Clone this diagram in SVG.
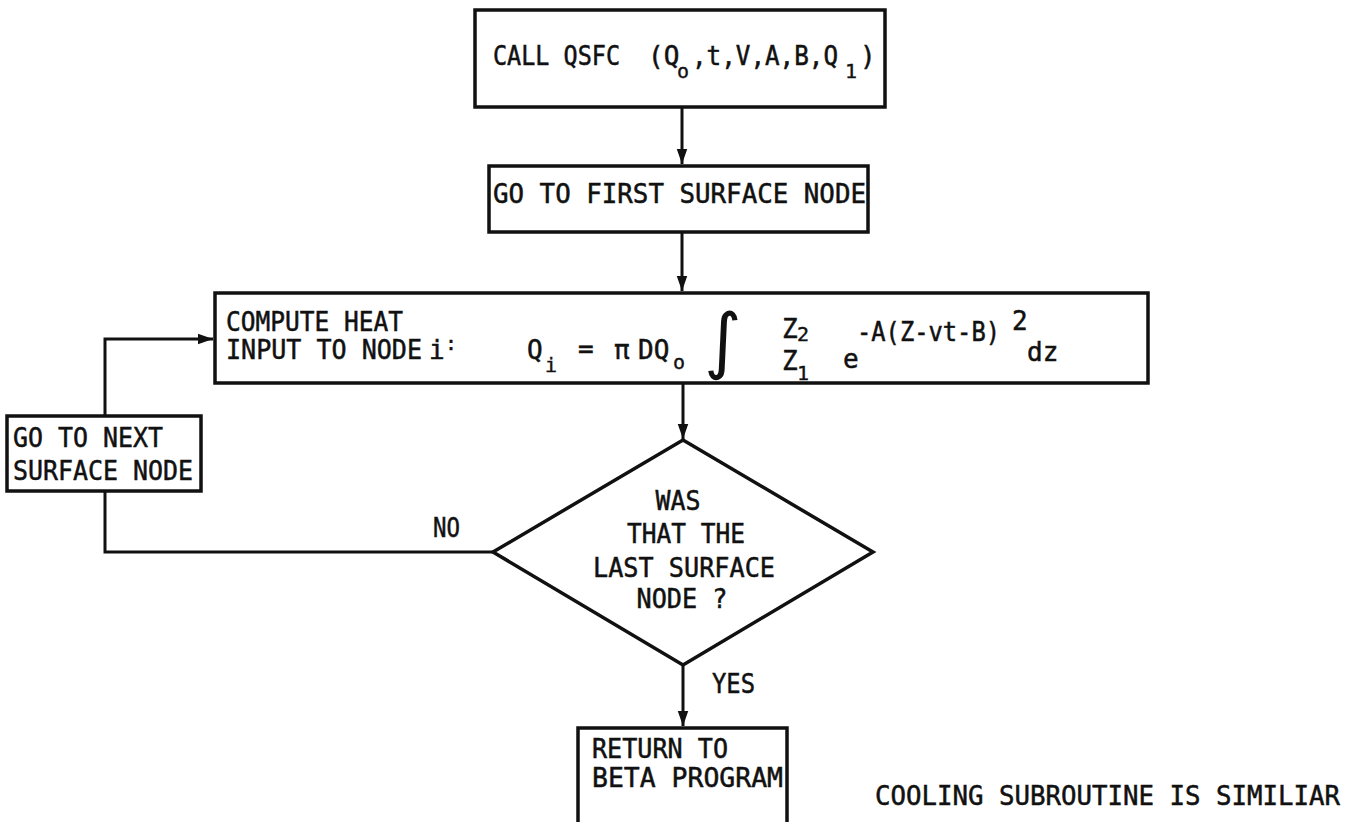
<svg xmlns="http://www.w3.org/2000/svg" width="1352" height="822" viewBox="0 0 1352 822">
<defs>
<style>
.box{fill:#fff;stroke:#111;stroke-width:3.5}
.con{fill:none;stroke:#111;stroke-width:3}
.t{font-family:"DejaVu Sans Mono","Liberation Mono",monospace;font-size:26px;fill:#111;stroke:#111;stroke-width:0.5}
.s{font-family:"DejaVu Sans Mono","Liberation Mono",monospace;font-size:20px;fill:#111;stroke:#111;stroke-width:0.4}
.m{text-anchor:middle}
</style>
<marker id="ah" viewBox="0 0 10 10" refX="10" refY="5" markerWidth="5" markerHeight="5" markerUnits="strokeWidth" orient="auto">
<path d="M0,1.5 L10,5 L0,8.5 Z" fill="#111"/>
</marker>
</defs>
<rect width="1352" height="822" fill="#fff"/>

<g id="connectors">
<line class="con" x1="682" y1="107" x2="682" y2="164" marker-end="url(#ah)"/>
<line class="con" x1="682" y1="232" x2="682" y2="291" marker-end="url(#ah)"/>
<line class="con" x1="683" y1="383" x2="683" y2="439" marker-end="url(#ah)"/>
<line class="con" x1="683" y1="665" x2="683" y2="726" marker-end="url(#ah)"/>
<polyline class="con" points="493,552 105,552 105,490"/>
<polyline class="con" points="105,416 105,339 213,339" marker-end="url(#ah)"/>
<text class="t" x="433" y="537" textLength="27" lengthAdjust="spacingAndGlyphs">NO</text>
<text class="t" x="712" y="693" textLength="43" lengthAdjust="spacingAndGlyphs">YES</text>
</g>

<g id="call">
<rect class="box" x="475" y="10" width="410" height="97"/>
<text class="t" y="65"><tspan x="493" textLength="127" lengthAdjust="spacingAndGlyphs">CALL QSFC</tspan><tspan x="648">(Q</tspan><tspan class="s" x="677" y="78">o</tspan><tspan x="692" y="65" textLength="146" lengthAdjust="spacingAndGlyphs">,t,V,A,B,Q</tspan><tspan class="s" x="845" y="78">1</tspan><tspan x="860" y="65">)</tspan></text>
</g>

<g id="first">
<rect class="box" x="489" y="166" width="379" height="66"/>
<text class="t" x="493" y="203" textLength="373" lengthAdjust="spacingAndGlyphs">GO TO FIRST SURFACE NODE</text>
</g>

<g id="compute">
<rect class="box" x="215" y="293" width="933" height="90"/>
<text class="t" x="226" y="331" textLength="177" lengthAdjust="spacingAndGlyphs">COMPUTE HEAT</text>
<text class="t" y="359"><tspan x="226" textLength="196" lengthAdjust="spacingAndGlyphs">INPUT TO NODE</tspan><tspan x="429">i</tspan><tspan class="s" x="445" y="350">:</tspan></text>
<text class="t" y="359"><tspan x="527">Q</tspan><tspan class="s" x="545" y="372">i</tspan></text>
<text class="t" x="578" y="358">=</text>
<text class="t" y="359"><tspan x="614">π</tspan><tspan x="638">DQ</tspan><tspan class="s" x="673" y="369">o</tspan></text>
<text x="704" y="365" font-family="DejaVu Sans" font-size="72" fill="#111">∫</text>
<text class="t" y="338"><tspan x="782">Z</tspan><tspan class="s" x="797" y="341">2</tspan></text>
<text class="t" y="370"><tspan x="782">Z</tspan><tspan class="s" x="797" y="380">1</tspan></text>
<text class="t" y="368"><tspan x="843">e</tspan><tspan x="857" y="341" textLength="143" lengthAdjust="spacingAndGlyphs">-A(Z-vt-B)</tspan><tspan x="1012" y="330">2</tspan><tspan x="1027" y="361">dz</tspan></text>
</g>

<g id="next">
<rect class="box" x="7" y="416" width="194" height="75"/>
<text class="t" x="13" y="447" textLength="150" lengthAdjust="spacingAndGlyphs">GO TO NEXT</text>
<text class="t" x="13" y="480" textLength="180" lengthAdjust="spacingAndGlyphs">SURFACE NODE</text>
</g>

<g id="decision">
<polygon class="box" points="683,440 873,552 683,665 493,552"/>
<text class="t m" x="678" y="510" textLength="45" lengthAdjust="spacingAndGlyphs">WAS</text>
<text class="t m" x="686" y="543" textLength="118" lengthAdjust="spacingAndGlyphs">THAT THE</text>
<text class="t m" x="684" y="577" textLength="182" lengthAdjust="spacingAndGlyphs">LAST SURFACE</text>
<text class="t m" x="682" y="608" textLength="91" lengthAdjust="spacingAndGlyphs">NODE ?</text>
</g>

<g id="return">
<rect class="box" x="578" y="728" width="209" height="110"/>
<text class="t" x="592" y="758" textLength="136" lengthAdjust="spacingAndGlyphs">RETURN TO</text>
<text class="t" x="592" y="787" textLength="191" lengthAdjust="spacingAndGlyphs">BETA PROGRAM</text>
</g>

<g id="note">
<text class="t" x="875" y="805" textLength="465" lengthAdjust="spacingAndGlyphs">COOLING SUBROUTINE IS SIMILIAR</text>
</g>
</svg>
